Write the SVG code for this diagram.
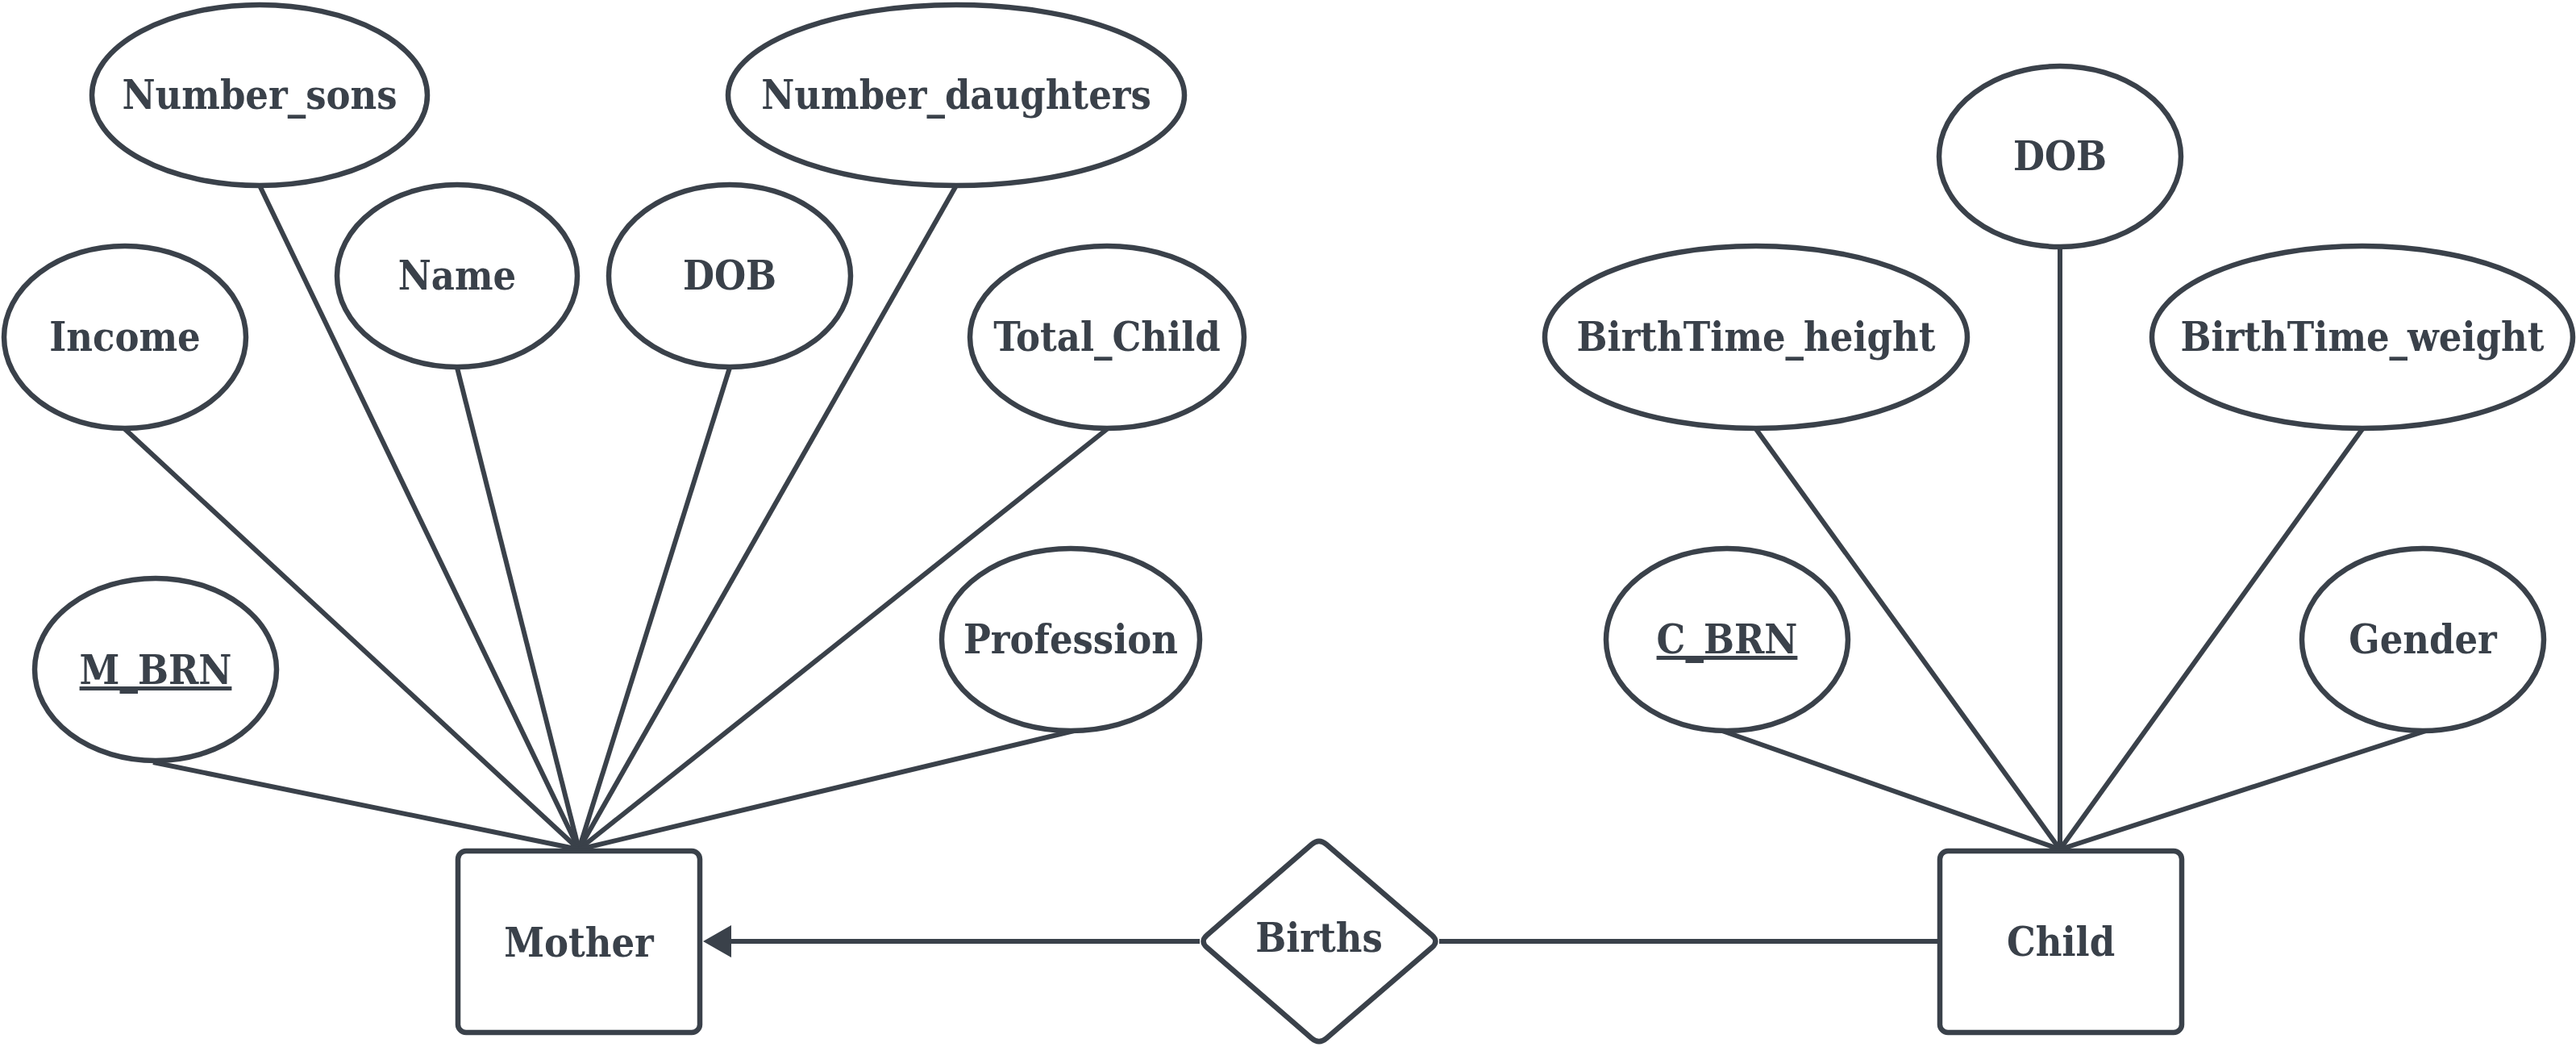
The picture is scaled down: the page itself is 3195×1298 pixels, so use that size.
<svg xmlns="http://www.w3.org/2000/svg" width="3195" height="1298" viewBox="0 0 3195 1298">
<style>
.shape{fill:#ffffff;stroke:#3a414a;stroke-width:6.5;stroke-linejoin:round}
.conn{stroke:#3a414a;stroke-width:6;fill:none;stroke-linecap:butt}
.lbl{font-family:"DejaVu Serif Condensed","DejaVu Serif",serif;font-stretch:condensed;font-weight:bold;font-size:50px;fill:#3a414a;text-anchor:middle}
.key{text-decoration:underline}
</style>
<rect width="3195" height="1298" fill="#ffffff"/>
<g id="connectors">
<line class="conn" x1="322" y1="230" x2="718" y2="1053"/>
<line class="conn" x1="567" y1="456" x2="718" y2="1053"/>
<line class="conn" x1="905" y1="456" x2="718" y2="1053"/>
<line class="conn" x1="1186" y1="230" x2="718" y2="1053"/>
<line class="conn" x1="155" y1="532" x2="718" y2="1053"/>
<line class="conn" x1="1373" y1="532" x2="718" y2="1053"/>
<line class="conn" x1="190" y1="945" x2="718" y2="1053"/>
<line class="conn" x1="1332" y1="906" x2="718" y2="1053"/>
<line class="conn" x1="2555" y1="306" x2="2555" y2="1053"/>
<line class="conn" x1="2178" y1="532" x2="2555" y2="1053"/>
<line class="conn" x1="2930" y1="532" x2="2555" y2="1053"/>
<line class="conn" x1="2136" y1="906" x2="2555" y2="1053"/>
<line class="conn" x1="3009" y1="906" x2="2555" y2="1053"/>
<line class="conn" x1="1488" y1="1167" x2="905" y2="1167"/>
<polygon points="872,1167 907,1147 907,1187" fill="#3a414a"/>
<line class="conn" x1="1785" y1="1167" x2="2405" y2="1167"/>
</g>
<g id="number_sons"><ellipse class="shape" cx="322" cy="118" rx="208" ry="112"/><text class="lbl" x="322" y="135">Number_sons</text></g>
<g id="number_daughters"><ellipse class="shape" cx="1186" cy="118" rx="283" ry="112"/><text class="lbl" x="1186" y="135">Number_daughters</text></g>
<g id="name"><ellipse class="shape" cx="567" cy="342" rx="149" ry="113"/><text class="lbl" x="567" y="359">Name</text></g>
<g id="mother_dob"><ellipse class="shape" cx="905" cy="342" rx="150" ry="113"/><text class="lbl" x="905" y="359">DOB</text></g>
<g id="income"><ellipse class="shape" cx="155" cy="418" rx="150" ry="113"/><text class="lbl" x="155" y="435">Income</text></g>
<g id="total_child"><ellipse class="shape" cx="1373" cy="418" rx="170" ry="113"/><text class="lbl" x="1373" y="435">Total_Child</text></g>
<g id="m_brn"><ellipse class="shape" cx="193" cy="830" rx="150" ry="113"/><text class="lbl key" x="193" y="848">M_BRN</text></g>
<g id="profession"><ellipse class="shape" cx="1328" cy="793" rx="160" ry="113"/><text class="lbl" x="1328" y="810">Profession</text></g>
<g id="mother"><rect class="shape" x="568" y="1055" width="300" height="225" rx="10"/><text class="lbl" x="718" y="1186">Mother</text></g>
<g id="births"><path class="shape" d="M1645.1,1046.8 L1775.9,1159.2 Q1785,1167 1775.9,1174.8 L1645.1,1287.2 Q1636,1295 1626.9,1287.2 L1497.1,1174.8 Q1488,1167 1497.1,1159.2 L1626.9,1046.8 Q1636,1039 1645.1,1046.8 Z"/><text class="lbl" x="1636" y="1180">Births</text></g>
<g id="child"><rect class="shape" x="2406" y="1055" width="300" height="225" rx="10"/><text class="lbl" x="2556" y="1185">Child</text></g>
<g id="child_dob"><ellipse class="shape" cx="2555" cy="194" rx="150" ry="112"/><text class="lbl" x="2555" y="211">DOB</text></g>
<g id="birthtime_height"><ellipse class="shape" cx="2178" cy="418" rx="262" ry="113"/><text class="lbl" x="2178" y="435">BirthTime_height</text></g>
<g id="birthtime_weight"><ellipse class="shape" cx="2930" cy="418" rx="261" ry="113"/><text class="lbl" x="2930" y="435">BirthTime_weight</text></g>
<g id="c_brn"><ellipse class="shape" cx="2142" cy="793" rx="150" ry="113"/><text class="lbl key" x="2142" y="810">C_BRN</text></g>
<g id="gender"><ellipse class="shape" cx="3005" cy="793" rx="150" ry="113"/><text class="lbl" x="3005" y="810">Gender</text></g>
</svg>
